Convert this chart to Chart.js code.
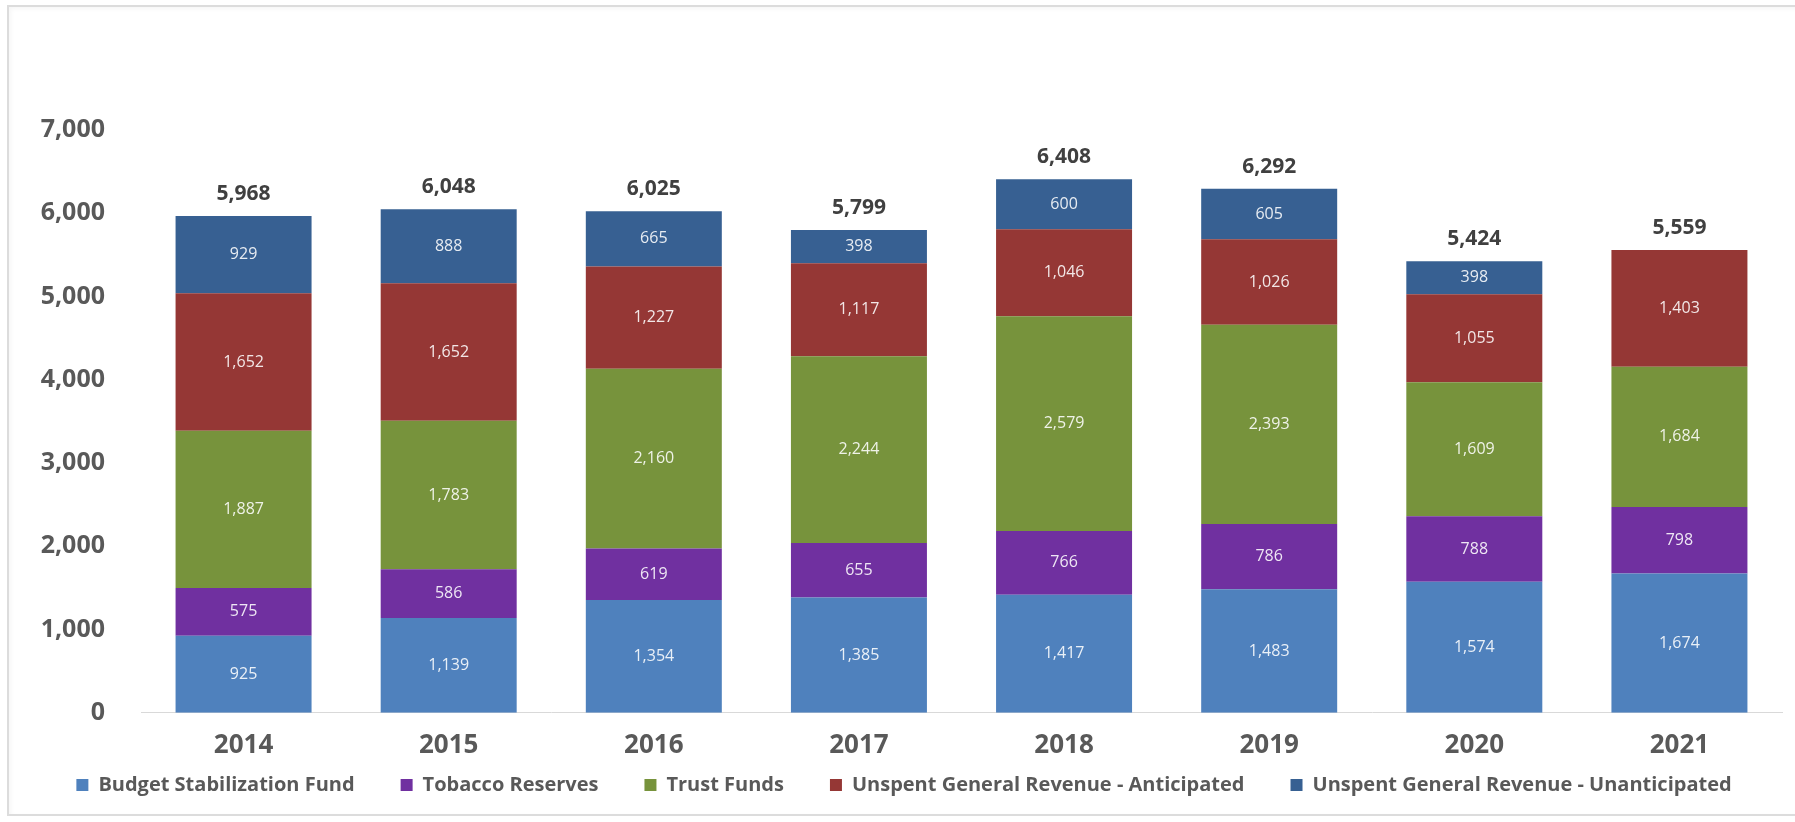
<!DOCTYPE html>
<html>
<head>
<meta charset="utf-8">
<title>Reserves by Year</title>
<script src="https://cdn.jsdelivr.net/npm/chart.js@4/dist/chart.umd.min.js"></script>
<style>
  html, body { margin: 0; padding: 0; background: #fff; }
  #wrap { position: relative; width: 1795px; height: 822px; overflow: hidden; }
  #frame {
    position: absolute; left: 7px; top: 5px; width: 1800px; height: 807px;
    border: 2px solid #dcdcdc; box-shadow: inset 2px 2px 4px rgba(0,0,0,0.04);
  }
  #box { position: absolute; left: 0; top: 0; width: 1795px; height: 822px; }
</style>
</head>
<body>
<div id="wrap">
  <div id="frame"></div>
  <div id="box"><canvas id="reserves"></canvas></div>
</div>
<script>
// Years on the x axis
const years = ["2014", "2015", "2016", "2017", "2018", "2019", "2020", "2021"];

// Series values (millions)
const budgetStabilization = [925, 1139, 1354, 1385, 1417, 1483, 1574, 1674];
const tobaccoReserves = [575, 586, 619, 655, 766, 786, 788, 798];
const trustFunds = [1887, 1783, 2160, 2244, 2579, 2393, 1609, 1684];
const unspentAnticipated = [1652, 1652, 1227, 1117, 1046, 1026, 1055, 1403];
const unspentUnanticipated = [929, 888, 665, 398, 600, 605, 398, null];

// Totals printed above each column
const totals = [5968, 6048, 6025, 5799, 6408, 6292, 5424, 5559];

// Y axis ticks
const yTicks = [0, 1000, 2000, 3000, 4000, 5000, 6000, 7000];

const FONT = "'Open Sans', 'Noto Sans', sans-serif";
const fmt = v => Number(v).toLocaleString("en-US");

// legend items are spread wide, but the row sits close under the year labels
const LEGEND_LIFT = 49;

const legendLift = {
  id: "legendLift",
  afterInit(chart) {
    const lg = chart.legend;
    const fit = lg.fit;
    lg.fit = function () {
      fit.call(this);
      this.height -= LEGEND_LIFT;
    };
  },
  afterLayout(chart) {
    // only the top moves, so the legend clip box still holds the row
    chart.legend.top -= LEGEND_LIFT;
  }
};

// Writes segment values inside the bars and totals on top
const barLabels = {
  id: "barLabels",
  afterDatasetsDraw(chart) {
    const ctx = chart.ctx;
    ctx.save();
    ctx.textAlign = "center";
    ctx.textBaseline = "middle";
    ctx.font = "400 16px " + FONT;
    ctx.fillStyle = "rgba(255,255,255,0.88)";
    chart.data.datasets.forEach((ds, i) => {
      const meta = chart.getDatasetMeta(i);
      meta.data.forEach((bar, j) => {
        const v = ds.data[j];
        if (v == null) return;
        const mid = (bar.y + bar.base) / 2;
        ctx.fillText(fmt(v), bar.x, mid);
      });
    });
    ctx.font = "700 21px " + FONT;
    ctx.fillStyle = "#404040";
    const last = chart.data.datasets.length - 1;
    years.forEach((y, j) => {
      let top = Infinity;
      for (let i = 0; i <= last; i++) {
        const bar = chart.getDatasetMeta(i).data[j];
        if (chart.data.datasets[i].data[j] != null) top = Math.min(top, bar.y);
      }
      ctx.fillText(fmt(totals[j]), chart.getDatasetMeta(0).data[j].x, top - 22);
    });
    ctx.restore();
  }
};

function series(label, data, color) {
  return {
    label: label,
    data: data,
    backgroundColor: color,
    borderWidth: 0,
    categoryPercentage: 1,
    barPercentage: 0.663
  };
}

new Chart(document.getElementById("reserves"), {
  type: "bar",
  data: {
    labels: years,
    datasets: [
      series("Budget Stabilization Fund", budgetStabilization, "#4f81bd"),
      series("Tobacco Reserves", tobaccoReserves, "#7030a0"),
      series("Trust Funds", trustFunds, "#77933c"),
      series("Unspent General Revenue - Anticipated", unspentAnticipated, "#953735"),
      series("Unspent General Revenue - Unanticipated", unspentUnanticipated, "#376092")
    ]
  },
  options: {
    responsive: true,
    maintainAspectRatio: false,
    animation: false,
    layout: { padding: { left: 26, right: 13, top: 130, bottom: 17 } },
    scales: {
      x: {
        stacked: true,
        grid: { display: false, drawTicks: false },
        border: { color: "#d9d9d9", width: 1 },
        ticks: { color: "#595959", font: { family: FONT, size: 26, weight: "700" }, padding: 17 }
      },
      y: {
        stacked: true,
        min: 0,
        max: 7000,
        afterBuildTicks(scale) { scale.ticks = yTicks.map(v => ({ value: v })); },
        afterFit(scale) { scale.width = 115; },
        grid: { display: false, drawTicks: false },
        border: { display: false },
        ticks: {
          color: "#595959",
          font: { family: FONT, size: 25, weight: "700" },
          padding: 36,
          callback: v => fmt(v)
        }
      }
    },
    plugins: {
      legend: {
        position: "bottom",
        labels: {
          color: "#595959",
          font: { family: FONT, size: 20, weight: "700" },
          boxWidth: 12,
          boxHeight: 12,
          padding: 46
        }
      },
      tooltip: { enabled: false }
    }
  },
  plugins: [legendLift, barLabels]
});
</script>
</body>
</html>
